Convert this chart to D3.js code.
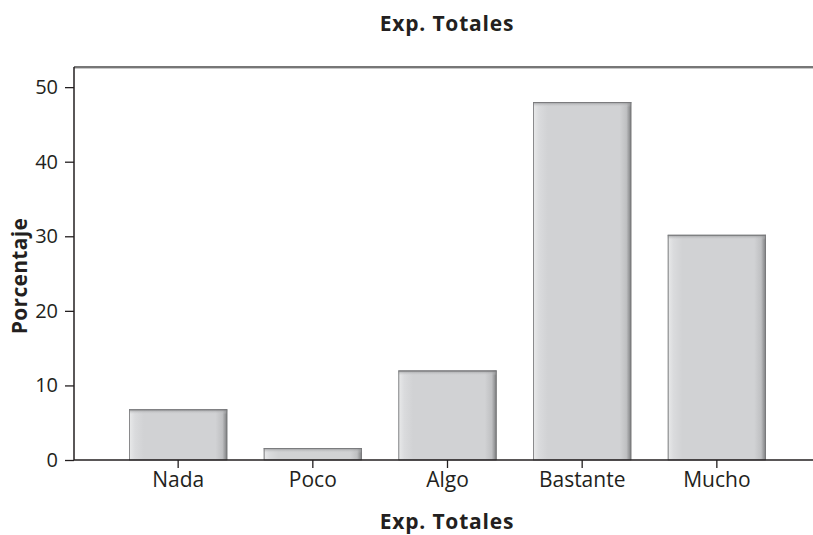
<!DOCTYPE html>
<html>
<head>
<meta charset="utf-8">
<script src="https://cdn.jsdelivr.net/npm/d3@7/dist/d3.min.js"></script>
<style>
  html, body { margin: 0; padding: 0; background: #fff; }
  svg { display: block; }
  text { font-family: "Open Sans", Lato, sans-serif; fill: #231f20; }
</style>
</head>
<body>
<div id="chart"></div>
<script>
// Response categories and their percentages
const categories = ["Nada", "Poco", "Algo", "Bastante", "Mucho"];
const values = [6.8, 1.6, 12.0, 48.0, 30.2];
const yTicks = [0, 10, 20, 30, 40, 50];
const chartTitle = "Exp. Totales";
const xTitle = "Exp. Totales";
const yTitle = "Porcentaje";

const width = 813, height = 535;
const plot = { left: 74, top: 67, right: 813, bottom: 460 };

const svg = d3.select("#chart").append("svg")
  .attr("width", width).attr("height", height);

const x = d3.scaleBand()
  .domain(categories)
  .range([129, 766])
  .paddingInner(0.27)
  .paddingOuter(0);

const y = d3.scaleLinear()
  .domain([0, 52.7])
  .range([plot.bottom, plot.top]);

// Bar shading: light left edge, flat body, dark right edge
const defs = svg.append("defs");
const hg = defs.append("linearGradient").attr("id", "barH")
  .attr("x1", "0").attr("x2", "1").attr("y1", "0").attr("y2", "0");
[[0, "#b4b5b7"], [0.012, "#e6e7e8"], [0.06, "#dadbdd"], [0.15, "#d1d2d4"],
 [0.88, "#d1d2d4"], [0.95, "#bfc0c2"], [0.985, "#8e8f91"], [1, "#6d6e70"]]
  .forEach(([o, c]) => hg.append("stop").attr("offset", o).attr("stop-color", c));

const vg = defs.append("linearGradient").attr("id", "barTop")
  .attr("x1", "0").attr("x2", "0").attr("y1", "0").attr("y2", "1");
[[0, "#5b5c5e", 1], [0.3, "#a0a1a3", 0.6], [1, "#d1d2d4", 0]]
  .forEach(([o, c, a]) => vg.append("stop").attr("offset", o)
    .attr("stop-color", c).attr("stop-opacity", a));

const bars = svg.append("g").selectAll("g.bar")
  .data(categories.map((c, i) => ({ c, v: values[i] })))
  .join("g").attr("class", "bar");

bars.append("rect")
  .attr("x", d => x(d.c))
  .attr("y", d => y(d.v))
  .attr("width", x.bandwidth())
  .attr("height", d => y(0) - y(d.v))
  .attr("fill", "url(#barH)");

bars.append("rect")
  .attr("x", d => x(d.c))
  .attr("y", d => y(d.v))
  .attr("width", x.bandwidth())
  .attr("height", d => Math.min(5, y(0) - y(d.v)))
  .attr("fill", "url(#barTop)");

bars.append("rect")
  .attr("x", d => x(d.c) + 0.5)
  .attr("y", d => y(d.v) + 0.5)
  .attr("width", x.bandwidth() - 1)
  .attr("height", d => y(0) - y(d.v) - 0.5)
  .attr("fill", "none")
  .attr("stroke", "#7a7b7d")
  .attr("stroke-width", 0.8);

// Top frame line with a faint shadow under it
svg.append("line")
  .attr("x1", plot.left).attr("x2", plot.right)
  .attr("y1", plot.top + 1.5).attr("y2", plot.top + 1.5)
  .attr("stroke", "#c8c8c8").attr("stroke-width", 1);
svg.append("line")
  .attr("x1", plot.left).attr("x2", plot.right)
  .attr("y1", plot.top).attr("y2", plot.top)
  .attr("stroke", "#4a4a4a").attr("stroke-width", 1.6);

// Y axis
const yAxis = svg.append("g")
  .attr("transform", `translate(${plot.left},0)`)
  .call(d3.axisLeft(y).tickValues(yTicks).tickSize(9).tickPadding(7).tickSizeOuter(0));
yAxis.select(".domain").remove();
yAxis.append("line")
  .attr("x1", 0).attr("x2", 0).attr("y1", plot.top).attr("y2", plot.bottom)
  .attr("stroke", "#231f20").attr("stroke-width", 1.5);
yAxis.selectAll(".tick line").attr("stroke", "#231f20").attr("stroke-width", 1.3);
yAxis.selectAll(".tick text")
  .attr("font-size", 20).attr("fill", "#231f20")
  .style("font-family", "'Open Sans', sans-serif");

// X axis
const xAxis = svg.append("g")
  .attr("transform", `translate(0,${plot.bottom})`)
  .call(d3.axisBottom(x).tickSize(8).tickPadding(4).tickSizeOuter(0));
xAxis.select(".domain").remove();
xAxis.append("line")
  .attr("x1", plot.left).attr("x2", plot.right).attr("y1", 0).attr("y2", 0)
  .attr("stroke", "#231f20").attr("stroke-width", 1.5);
xAxis.selectAll(".tick line").attr("stroke", "#231f20").attr("stroke-width", 1.3);
xAxis.selectAll(".tick text")
  .attr("font-size", 21).attr("fill", "#231f20")
  .style("font-family", "'Open Sans', sans-serif");

// Titles
svg.append("text")
  .attr("x", 447).attr("y", 31)
  .attr("text-anchor", "middle")
  .attr("font-size", 21).attr("font-weight", "bold")
  .attr("letter-spacing", 0.8)
  .text(chartTitle);

svg.append("text")
  .attr("x", 447).attr("y", 529)
  .attr("text-anchor", "middle")
  .attr("font-size", 21).attr("font-weight", "bold")
  .attr("letter-spacing", 0.8)
  .text(xTitle);

svg.append("text")
  .attr("transform", `translate(27,276) rotate(-90)`)
  .attr("text-anchor", "middle")
  .attr("font-size", 21).attr("font-weight", "bold")
  .attr("letter-spacing", 0.3)
  .text(yTitle);
</script>
</body>
</html>
